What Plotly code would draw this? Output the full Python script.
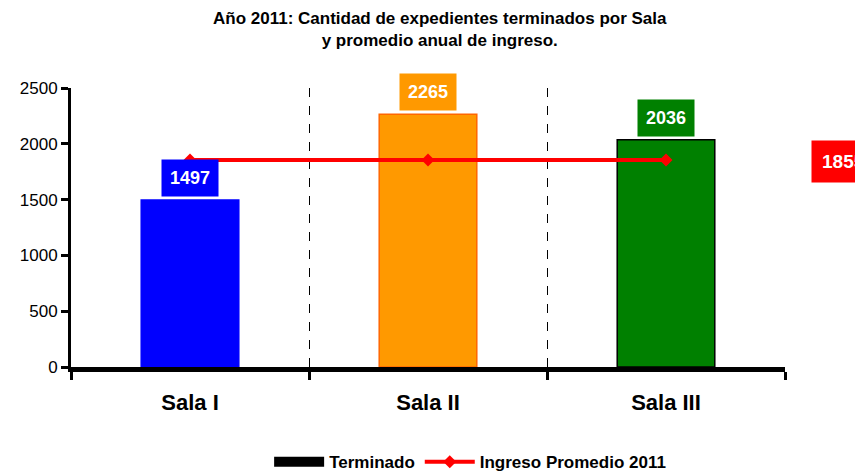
import plotly.graph_objects as go

salas = ["Sala I", "Sala II", "Sala III"]
terminados = [1497, 2265, 2036]
ingreso_promedio = [1855, 1855, 1855]
bar_colors = ["#0000ff", "#ff9900", "#008000"]
bar_lines = ["#0000ff", "#ff6600", "#000000"]
y_ticks = [0, 500, 1000, 1500, 2000, 2500]

font = "Liberation Sans, Arial, sans-serif"

fig = go.Figure()

fig.add_trace(go.Bar(
    x=salas, y=terminados, width=0.41,
    marker=dict(color=bar_colors, line=dict(color=bar_lines, width=1.5)),
    showlegend=False, hoverinfo="x+y",
))

# legend swatch for bars (black block)
fig.add_trace(go.Scatter(
    x=[None], y=[None], mode="lines", name="Terminado",
    line=dict(color="black", width=12),
))

fig.add_trace(go.Scatter(
    x=salas, y=ingreso_promedio, mode="lines+markers",
    name="Ingreso Promedio 2011",
    line=dict(color="#ff0000", width=4),
    marker=dict(symbol="diamond", size=10, color="#ff0000"),
))

for s, v, c in zip(salas, terminados, bar_colors):
    fig.add_annotation(
        x=s, y=v, text="<b>%d</b>" % v, showarrow=False,
        yanchor="bottom", yshift=3,
        font=dict(family=font, size=18, color="white"),
        bgcolor=c, borderpad=8,
    )

fig.add_annotation(
    xref="paper", x=1.036, y=ingreso_promedio[-1], xanchor="left",
    text="<b>%d</b>" % ingreso_promedio[-1], showarrow=False,
    font=dict(family=font, size=19, color="white"),
    bgcolor="#ff0000", borderpad=10, yshift=-2,
)

# title as annotation (placed in paper coords)
fig.add_annotation(
    xref="paper", yref="paper", x=0.517, y=1.21, yanchor="middle",
    text="<b>Año 2011: Cantidad de expedientes terminados por Sala<br>y promedio anual de ingreso.</b>",
    showarrow=False, align="center",
    font=dict(family=font, size=17, color="black"),
)

fig.update_layout(
    width=863, height=476,
    margin=dict(l=63, r=86, t=80, b=117, autoexpand=False),
    paper_bgcolor="white", plot_bgcolor="white",
    barmode="overlay",
    font=dict(family=font, color="black"),
    legend=dict(
        orientation="h", x=0.559, xanchor="center",
        yref="container", y=0.046, yanchor="middle",
        font=dict(family=font, size=17, color="black", weight="bold"),
        itemwidth=50,
    ),
    showlegend=True,
)

fig.update_xaxes(
    range=[-0.5, 2.5], tickson="boundaries",
    showline=True, linecolor="black", linewidth=5,
    ticks="outside", ticklen=8, tickwidth=3, tickcolor="black",
    showgrid=True, gridcolor="black", gridwidth=1, griddash="dash",
    tickfont=dict(family=font, size=22, color="black", weight="bold"),
    ticklabelstandoff=12,
    zeroline=False,
)

fig.update_yaxes(
    range=[0, 2500], tickvals=y_ticks,
    showline=True, linecolor="black", linewidth=3,
    ticks="outside", ticklen=7, tickwidth=3, tickcolor="black",
    showgrid=False, zeroline=False,
    tickfont=dict(family=font, size=17, color="black"),
)

fig.write_html("out.html")
